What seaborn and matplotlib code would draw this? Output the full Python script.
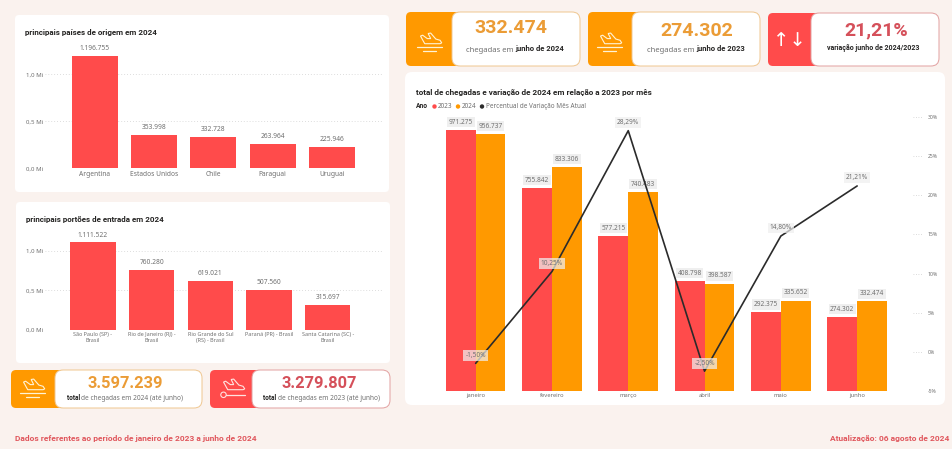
import matplotlib
matplotlib.use("Agg")
import matplotlib.pyplot as plt
from matplotlib.patches import FancyBboxPatch, Circle, Polygon
import pandas as pd
import seaborn as sns

W, H = 952, 449
RED = "#FF4B4B"
ORANGE = "#FF9900"
BG = "#FAF2EE"
GREY = "#707070"
NUM_ORANGE = "#EB9C36"
NUM_RED = "#D5505A"
BOLD_FONT = ["Roboto", "DejaVu Sans"]

# data
paises = ["Argentina", "Estados Unidos", "Chile", "Paraguai", "Uruguai"]
paises_vals = [1196755, 353998, 332728, 263964, 225946]

portoes = ["São Paulo (SP) -\nBrasil", "Rio de Janeiro (RJ) -\nBrasil", "Rio Grande do Sul\n(RS) - Brasil",
           "Paraná (PR) - Brasil\n", "Santa Catarina (SC) -\nBrasil"]
portoes_vals = [1111522, 760280, 619021, 507560, 315697]

meses = ["janeiro", "fevereiro", "março", "abril", "maio", "junho"]
chegadas_2023 = [971275, 755842, 577215, 408798, 292375, 274302]
chegadas_2024 = [956737, 833306, 740483, 398587, 335652, 332474]
variacao = [-1.50, 10.25, 28.29, -2.50, 14.80, 21.21]

sns.set_theme(style="white")
plt.rcParams["font.family"] = ["Noto Sans", "DejaVu Sans"]

fig = plt.figure(figsize=(W / 100, H / 100), dpi=100, facecolor=BG)

# fundo em pixels, para os cartoes e textos soltos
bg = fig.add_axes([0, 0, 1, 1], zorder=0)
bg.set_xlim(0, W)
bg.set_ylim(H, 0)
bg.axis("off")


def box(x0, y0, x1, y1, color, r=5, edge="none", z=1):
    bg.add_patch(FancyBboxPatch((x0 + r, y0 + r), x1 - x0 - 2 * r, y1 - y0 - 2 * r,
                                boxstyle=f"round,pad={r},rounding_size={r}",
                                fc=color, ec=edge, lw=0.7, zorder=z))


def plane(cx, cy, s=1.0, color="#FFF3D6", landing=True):
    body = [(-10, -7), (-7.5, -8), (-2, -4), (2, -4), (-1, -10), (2, -10.5), (8, -3.5),
            (13, -2), (15, 1), (13, 2), (-5, 2)]
    bg.add_patch(Polygon([(cx + a * s, cy + b * s) for a, b in body], closed=True, fc="none", ec=color, lw=0.8, zorder=4))
    if landing:
        bg.plot([cx - 14 * s, cx + 15 * s], [cy + 6 * s, cy + 6 * s], color=color, lw=0.9, zorder=4)
        bg.plot([cx - 7 * s, cx + 8 * s], [cy + 10 * s, cy + 10 * s], color=color, lw=0.9, zorder=4)
    else:
        bg.add_patch(Circle((cx - 10 * s, cy + 8 * s), 3.2 * s, fc="none", ec=color, lw=0.8, zorder=4))
        bg.plot([cx - 6.5 * s, cx + 15 * s], [cy + 8 * s, cy + 8 * s], color=color, lw=0.9, zorder=4)


def kpi(x0, y0, x1, y1, split, color, edge):
    box(x0, y0, split + 14, y1, color, r=5, z=1)
    box(split, y0, x1, y1, "white", r=8, edge=edge, z=2)


def btext(x, y, s, size, color="#252423", ha="left"):
    bg.text(x, y, s, fontsize=size, fontweight="bold", color=color, ha=ha, va="center", zorder=4, family=BOLD_FONT)


# cartoes brancos
box(15, 15, 389, 192, "white", r=4)
box(16, 202, 390, 363, "white", r=4)
box(405, 72, 945, 405, "white", r=7)

# kpis
kpi(406, 12, 580, 66, 452, ORANGE, "#EFC68F")
kpi(588, 12, 760, 66, 632, ORANGE, "#EFC68F")
kpi(768, 13, 939, 66, 811, RED, "#E2A0A0")
kpi(11, 370, 202, 408, 55, ORANGE, "#EFC68F")
kpi(210, 370, 390, 408, 252, RED, "#E2A0A0")

plane(429, 42, 0.85)
plane(609, 42, 0.85)
plane(32, 388, 0.85)
plane(232, 388, 0.85, color="#FFE3E0", landing=False)
bg.text(789, 41, "↑↓", color="white", fontsize=14, ha="center", va="center", zorder=4, family=["DejaVu Sans"])

btext(511, 28, "332.474", 14, NUM_ORANGE, "center")
btext(696.5, 31, "274.302", 14, NUM_ORANGE, "center")
btext(876, 30, "21,21%", 14, NUM_RED, "center")
btext(125, 384, "3.597.239", 11.8, NUM_ORANGE, "center")
btext(319, 384, "3.279.807", 11.8, NUM_RED, "center")


def mixed(xc, y, parts, size):
    # texto com trechos em negrito, centrado em xc
    r = fig.canvas.get_renderer()
    items = [bg.text(0, y, t, fontsize=size, fontweight=w, color=c, va="baseline", zorder=4,
                     family=BOLD_FONT if w == "bold" else ["Noto Sans", "DejaVu Sans"]) for t, w, c in parts]
    widths = [i.get_window_extent(r).width for i in items]
    x = xc - sum(widths) / 2
    for i, wd in zip(items, widths):
        i.set_x(x)
        x += wd


mixed(515, 51.5, [("chegadas em\u00a0", "normal", GREY), ("junho de 2024", "bold", "#252423")], 5.5)
mixed(696, 51.5, [("chegadas em\u00a0", "normal", GREY), ("junho de 2023", "bold", "#252423")], 5.5)
btext(873.5, 48, "variação junho de 2024/2023", 5, ha="center")
mixed(125, 400.5, [("total\u00a0", "bold", "#252423"), ("de chegadas em 2024 (até junho)", "normal", GREY)], 4.7)
mixed(321.5, 400.5, [("total\u00a0", "bold", "#252423"), ("de chegadas em 2023 (até junho)", "normal", GREY)], 4.7)

btext(25, 33, "principais países de origem em 2024", 5.8)
btext(25.5, 219, "principais portões de entrada em 2024", 5.8)
btext(416, 92, "total de chegadas e variação de 2024 em relação a 2023 por mês", 5.85)

# legenda
btext(416, 106.5, "Ano", 4.8)
for xd, cor, txt in [(434.5, RED, "2023"), (458, ORANGE, "2024"), (482, "#2B2B2B", "Percentual de Variação Mês Atual")]:
    bg.add_patch(Circle((xd, 106.5), 2.2, fc=cor, ec="none", zorder=4))
    bg.text(xd + 3.5, 106.5, txt, fontsize=4.6, color=GREY, va="center", zorder=4)

btext(15, 438, "Dados referentes ao período de janeiro de 2023 a junho de 2024", 6, "#E0565C")
btext(949, 438, "Atualização: 06 agosto de 2024", 6, "#E0565C", "right")


def px_axes(x0, y0, x1, y1, z=2):
    a = fig.add_axes([x0 / W, 1 - y1 / H, (x1 - x0) / W, (y1 - y0) / H], zorder=z)
    a.patch.set_alpha(0)
    return a


def bar_panel(box_px, cats, vals, ymax, xlim, tick_size):
    a = px_axes(*box_px)
    df = pd.DataFrame({"cat": cats, "val": vals})
    sns.barplot(data=df, x="cat", y="val", color=RED, saturation=1, width=0.776, linewidth=0, ax=a, zorder=3)
    a.set_xlim(*xlim)
    a.set_ylim(0, ymax)
    a.set_yticks([0, 500000, 1000000])
    a.set_yticklabels(["0,0 Mi", "0,5 Mi", "1,0 Mi"], fontsize=4.4, color=GREY)
    a.set_xlabel("")
    a.set_ylabel("")
    a.tick_params(axis="x", labelsize=tick_size, labelcolor=GREY, length=0, pad=2)
    a.tick_params(axis="y", length=0, pad=1)
    a.grid(axis="y", color="#D2D2D2", linestyle=(0, (1, 2.5)), lw=0.6, zorder=0)
    sns.despine(ax=a, left=True, bottom=True)
    for c, v in enumerate(vals):
        a.annotate(f"{v:,}".replace(",", "."), (c, v), xytext=(0, 5.2), textcoords="offset points",
                   ha="center", va="center", fontsize=4.8, color=GREY, zorder=5)
    return a


bar_panel((45, 42, 382, 168.3), paises, paises_vals, 1.3447e6, (-0.5 - 20 / 59.3, 4.5 + 20.4 / 59.3), 4.8)
bar_panel((45, 226, 383, 329.7), portoes, portoes_vals, 1.3177e6, (-0.5 - 19 / 59.8, 4.5 + 26.5 / 59.8), 3.9)

# grafico combinado
ax = px_axes(437.5, 117.3, 922, 390.7, z=2)
long_df = pd.DataFrame({
    "mes": meses * 2,
    "ano": ["2023"] * 6 + ["2024"] * 6,
    "chegadas": chegadas_2023 + chegadas_2024,
})
sns.barplot(data=long_df, x="mes", y="chegadas", hue="ano", palette=[RED, ORANGE], saturation=1,
            width=0.78, gap=0, linewidth=0, legend=False, ax=ax, zorder=2)
ax.set_xlim(-0.5, 5.85)
ax.set_ylim(0, 1018700)
ax.set_yticks([])
ax.set_xlabel("")
ax.set_ylabel("")
ax.tick_params(axis="x", labelsize=4.2, labelcolor=GREY, length=0, pad=2)
sns.despine(ax=ax, left=True, bottom=True)

for cont, vals in zip(ax.containers, [chegadas_2023, chegadas_2024]):
    for rect, v in zip(cont.patches, vals):
        ax.annotate(f"{v:,}".replace(",", "."), (rect.get_x() + rect.get_width() / 2, v), xytext=(0, 5.6),
                    textcoords="offset points", ha="center", va="center", fontsize=4.7, color=GREY, zorder=6,
                    bbox=dict(boxstyle="square,pad=0.25", fc="#EFEFEF", ec="none"), annotation_clip=False)

ax2 = ax.twinx()
ax2.patch.set_alpha(0)
ax2.set_zorder(3)
sns.lineplot(x=list(range(6)), y=variacao, color="#2B2B2B", lw=1.2, ax=ax2, errorbar=None, zorder=4)
ax2.set_ylim(-5, 30)
ticks = [-5, 0, 5, 10, 15, 20, 25, 30]
ax2.set_yticks(ticks)
ax2.set_yticklabels([f"{t}%" for t in ticks], fontsize=3.7, color=GREY)
ax2.tick_params(axis="y", length=0, pad=4)
ax2.hlines(ticks, 5.73, 5.85, color="#CFCFCF", linestyle=(0, (1, 2)), lw=0.6)
ax2.set_xlim(-0.5, 5.85)
sns.despine(ax=ax2, left=True, bottom=True, right=True)

for i, p in enumerate(variacao):
    ax2.annotate(f"{p:.2f}%".replace(".", ","), (i, p), xytext=(0, 5.8), textcoords="offset points",
                 ha="center", va="center", fontsize=4.7, color=GREY, zorder=7,
                 bbox=dict(boxstyle="square,pad=0.3", fc="#EFEFEF", ec="none", alpha=0.72))

fig.savefig("out.png", dpi=100, facecolor=BG)
plt.close(fig)
